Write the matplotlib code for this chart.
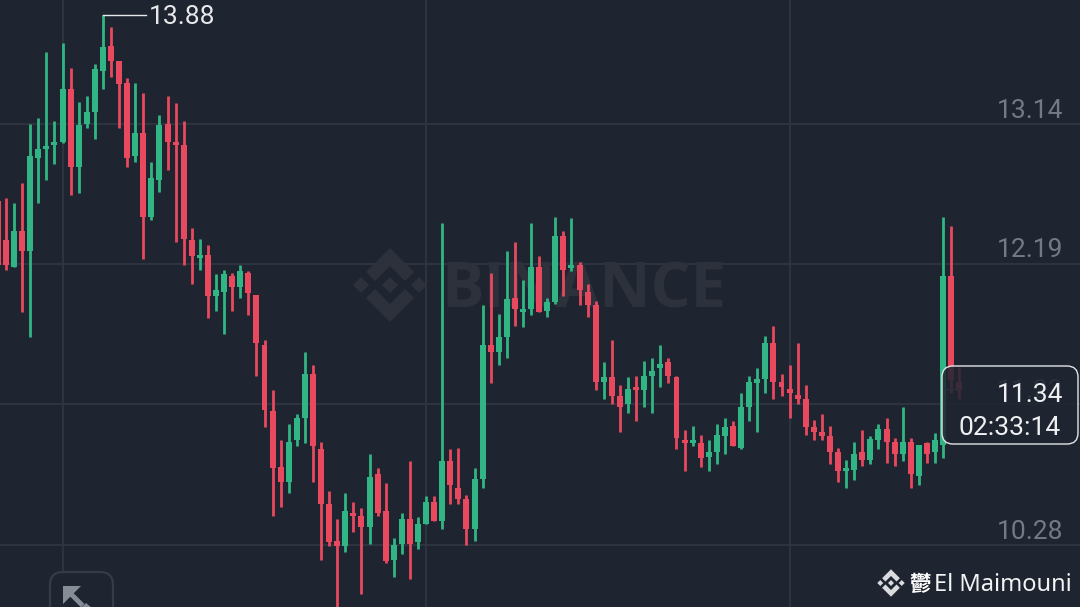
import matplotlib
matplotlib.use('Agg')
import matplotlib.pyplot as plt
import matplotlib.transforms as mtransforms
from matplotlib.patches import FancyBboxPatch, Polygon
import numpy as np

# 数据
opens = [12.62, 12.35, 12.17, 12.41, 12.28, 12.91, 12.97, 13.00, 13.02, 13.38,
         12.85, 13.14, 13.22, 13.50, 13.67, 13.57, 13.42, 12.92, 13.08, 12.51,
         12.76, 13.14, 13.02, 13.00, 12.35, 12.23, 12.25, 11.97, 12.00, 12.11,
         12.03, 12.13, 11.98, 11.64, 11.19, 10.81, 10.71, 10.99, 11.14, 11.44,
         10.93, 10.56, 10.31, 10.27, 10.50, 10.48, 10.40, 10.76, 10.51, 10.18,
         10.29, 10.46, 10.30, 10.42, 10.57, 10.44, 10.85, 10.67, 10.59, 10.39,
         10.73, 11.64, 11.59, 11.69, 11.96, 11.86, 11.88, 12.17, 11.87, 11.93,
         12.38, 12.16, 12.18, 12.00, 11.91, 11.39, 11.42, 11.29, 11.24, 11.35,
         11.33, 11.43, 11.48, 11.52, 11.42, 10.99, 10.97, 10.97, 10.88, 10.91,
         11.02, 11.09, 10.94, 11.22, 11.38, 11.41, 11.65, 11.39, 11.34, 11.30,
         11.27, 11.08, 11.05, 11.02, 10.91, 10.78, 10.79, 10.91, 10.86, 10.99,
         11.07, 10.98, 10.90, 10.98, 10.75, 10.97, 10.91, 10.96, 12.11, 11.39]
highs = [12.81, 12.64, 12.60, 12.74, 13.14, 13.18, 13.63, 13.16, 13.69, 13.52,
         13.29, 13.33, 13.55, 13.88, 13.80, 13.57, 13.45, 13.42, 13.35, 12.88,
         13.20, 13.33, 13.28, 13.16, 12.43, 12.36, 12.32, 12.12, 12.15, 12.13,
         12.18, 12.14, 11.98, 11.67, 11.33, 10.99, 11.10, 11.17, 11.59, 11.50,
         10.98, 10.65, 10.46, 10.63, 10.57, 10.53, 10.90, 10.80, 10.70, 10.33,
         10.50, 10.85, 10.47, 10.61, 10.61, 12.47, 10.93, 10.94, 10.62, 10.80,
         11.91, 12.13, 11.85, 12.28, 12.34, 12.08, 12.47, 12.24, 11.96, 12.51,
         12.41, 12.50, 12.20, 12.05, 11.94, 11.52, 11.67, 11.37, 11.42, 11.43,
         11.53, 11.55, 11.64, 11.55, 11.43, 11.06, 11.09, 11.03, 10.99, 11.10,
         11.14, 11.12, 11.31, 11.43, 11.48, 11.70, 11.77, 11.44, 11.50, 11.65,
         11.37, 11.13, 11.17, 11.09, 10.94, 10.86, 10.98, 11.06, 11.02, 11.10,
         11.14, 11.01, 11.22, 11.01, 10.96, 10.98, 11.04, 12.51, 12.45, 11.49]
lows = [12.06, 12.15, 12.17, 11.86, 11.69, 12.60, 12.76, 12.87, 13.01, 12.66,
        12.67, 13.11, 13.04, 13.38, 13.46, 13.11, 12.85, 12.88, 12.22, 12.49,
        12.68, 12.83, 12.34, 12.18, 12.05, 12.15, 11.82, 11.87, 11.71, 11.87,
        11.96, 11.84, 11.43, 11.08, 10.48, 10.54, 10.63, 10.95, 10.97, 10.71,
        10.18, 10.27, 9.84, 10.23, 10.37, 9.95, 10.29, 10.48, 10.16, 10.06,
        10.22, 10.05, 10.25, 10.42, 10.44, 10.39, 10.56, 10.56, 10.28, 10.31,
        10.67, 11.38, 11.50, 11.55, 11.77, 11.76, 11.84, 11.86, 11.83, 11.92,
        11.97, 12.14, 11.91, 11.83, 11.33, 11.27, 11.24, 11.05, 11.18, 11.12,
        11.22, 11.18, 11.35, 11.38, 10.93, 10.78, 10.95, 10.81, 10.78, 10.83,
        10.90, 10.95, 10.93, 11.12, 11.05, 11.31, 11.27, 11.29, 11.14, 11.24,
        11.03, 10.99, 10.99, 10.83, 10.71, 10.67, 10.72, 10.82, 10.83, 10.93,
        10.84, 10.82, 10.85, 10.67, 10.69, 10.84, 10.84, 10.87, 11.31, 11.27]
closes = [12.18, 12.18, 12.41, 12.28, 12.92, 12.97, 12.99, 13.02, 13.38, 12.85,
          13.13, 13.22, 13.51, 13.66, 13.57, 13.41, 12.91, 13.08, 12.51, 12.77,
          13.13, 13.02, 13.00, 12.36, 12.24, 12.25, 11.97, 12.01, 12.12, 12.03,
          12.14, 11.99, 11.65, 11.20, 10.80, 10.71, 10.98, 11.14, 11.44, 10.95,
          10.56, 10.30, 10.27, 10.51, 10.48, 10.40, 10.74, 10.50, 10.17, 10.28,
          10.46, 10.29, 10.42, 10.57, 10.44, 10.85, 10.69, 10.59, 10.39, 10.73,
          11.64, 11.59, 11.69, 11.95, 11.88, 11.88, 12.17, 11.86, 11.93, 12.38,
          12.15, 12.18, 12.01, 11.91, 11.39, 11.42, 11.29, 11.22, 11.34, 11.33,
          11.43, 11.46, 11.51, 11.43, 11.01, 10.97, 10.99, 10.87, 10.91, 11.03,
          11.08, 10.95, 11.22, 11.39, 11.41, 11.65, 11.39, 11.35, 11.31, 11.27,
          11.08, 11.05, 11.02, 10.91, 10.78, 10.80, 10.90, 10.86, 11.00, 11.07,
          10.98, 10.90, 10.98, 10.76, 10.96, 10.90, 10.99, 12.11, 11.40, 11.33]

price_ticks = [13.14, 12.19, 11.235, 10.28]
price_labels = ['13.14', '12.19', '11.23', '10.28']
time_ticks = [7, 52, 97]  # 竖向网格所在的K线
high_label = '13.88'
last_price = 11.34
countdown = '02:33:14'

# 颜色设置
bg = '#1f2530'
grid = '#303641'
green = '#31b584'
red = '#e9495f'
axis_text = '#747a85'
mark = '#2c313c'

fig = plt.figure(figsize=(10.8, 6.07), dpi=100, facecolor=bg)
ax = fig.add_axes([0, 0, 1, 1], facecolor=bg)
ax.set_xlim(-0.743, 132.95)
ax.set_ylim(9.859, 13.982)
ax.axis('off')

# 像素坐标，用于水印、标签等
px = mtransforms.Affine2D().scale(1, -1).translate(0, 607)

# 网格
ax.hlines(price_ticks, -0.743, 132.95, color=grid, linewidth=1.3, zorder=1)
ax.vlines(time_ticks, 9.859, 13.982, color=grid, linewidth=1.3, zorder=1)


def binance_logo(cx, cy, s, color, zorder):
    shapes = [
        [(0, -8), (8, 0), (0, 8), (-8, 0)],
        [(-29, -8), (-21, 0), (-29, 8), (-37, 0)],
        [(29, -8), (37, 0), (29, 8), (21, 0)],
        [(0, -37), (24, -13), (15, -4), (0, -19), (-15, -4), (-24, -13)],
        [(0, 37), (24, 13), (15, 4), (0, 19), (-15, 4), (-24, 13)],
    ]
    for pts in shapes:
        ax.add_patch(Polygon([(cx + p[0] * s, cy + p[1] * s) for p in pts], closed=True,
                             facecolor=color, edgecolor='none', transform=px, zorder=zorder))


# 水印
binance_logo(390, 285, 1, mark, 1.5)
ax.text(441, 291, 'BINANCE', transform=px, color=mark, fontsize=45.5, fontweight='bold',
        family='Open Sans', va='center', ha='left', zorder=1.5)

# K线
x = np.arange(len(closes)) - 1
o = np.array(opens)
h = np.array(highs)
l = np.array(lows)
c = np.array(closes)
colors = [green if b >= a else red for a, b in zip(o, c)]
ax.vlines(x, l, h, color=colors, linewidth=2.0, zorder=2)
ax.bar(x, np.abs(c - o), bottom=np.minimum(o, c), width=0.74, color=colors, linewidth=0, zorder=2.1)

# 价格标签
for p, s in zip(price_ticks, price_labels):
    ax.annotate(s, (1063, p), xycoords=('figure pixels', 'data'), xytext=(0, 9.6),
                textcoords='offset points', ha='right', va='center', color=axis_text,
                fontsize=19, family='Roboto', zorder=3)

# 最高价标注
ax.plot([103, 146], [15, 15], color='#e6e8ea', linewidth=1, transform=px, zorder=4)
ax.text(149, 17, high_label, transform=px, color='#e6e8ea', fontsize=19, family='Roboto',
        ha='left', va='center', zorder=4)

# 当前价格框
ax.plot([943, 958], [389, 389], color='#6d737d', linewidth=1, transform=px, zorder=2.5)
ax.add_patch(FancyBboxPatch((953, 377), 114, 56, boxstyle='round,pad=11,rounding_size=11',
                            facecolor=bg, alpha=0.86, edgecolor='none', transform=px, zorder=5))
ax.add_patch(FancyBboxPatch((953, 377), 114, 56, boxstyle='round,pad=11,rounding_size=11',
                            facecolor='none', edgecolor='#e2e4e6', linewidth=1, transform=px, zorder=5.1))
ax.text(1063, 395, f'{last_price:.2f}', transform=px, color='#eef0f1', fontsize=19,
        family='Roboto', ha='right', va='center', zorder=6)
ax.text(1061, 428, countdown, transform=px, color='#eef0f1', fontsize=19,
        family='Roboto', ha='right', va='center', zorder=6)

# 左下角按钮
ax.add_patch(FancyBboxPatch((63, 585), 37, 60, boxstyle='round,pad=13,rounding_size=13',
                            facecolor=bg, edgecolor='#363c47', linewidth=1.6, transform=px, zorder=3,
                            clip_on=True))
ax.add_patch(Polygon([(63, 586), (81, 586), (63, 604)], closed=True, facecolor='#878d97',
                     edgecolor='none', transform=px, zorder=3.2))
ax.plot([70, 81], [593, 604], color='#878d97', linewidth=3.5, transform=px, zorder=3.2)
ax.add_patch(Polygon([(86, 603), (81, 608), (92, 608)], closed=True, facecolor='#878d97',
                     edgecolor='none', transform=px, zorder=3.2))

# 右下角署名
binance_logo(891, 583, 0.37, '#d9dbde', 6)
ax.text(920, 584, '鬱', transform=px, color='white', fontsize=15.5, fontweight='bold',
        family=['Noto Sans CJK SC', 'DejaVu Sans'], ha='center', va='center', zorder=6)
ax.text(1072, 585, 'El Maimouni', transform=px, color='#f2f3f4', fontsize=17,
        family='Noto Sans', ha='right', va='center', zorder=6)

fig.savefig('out.png', dpi=100, facecolor=bg)
